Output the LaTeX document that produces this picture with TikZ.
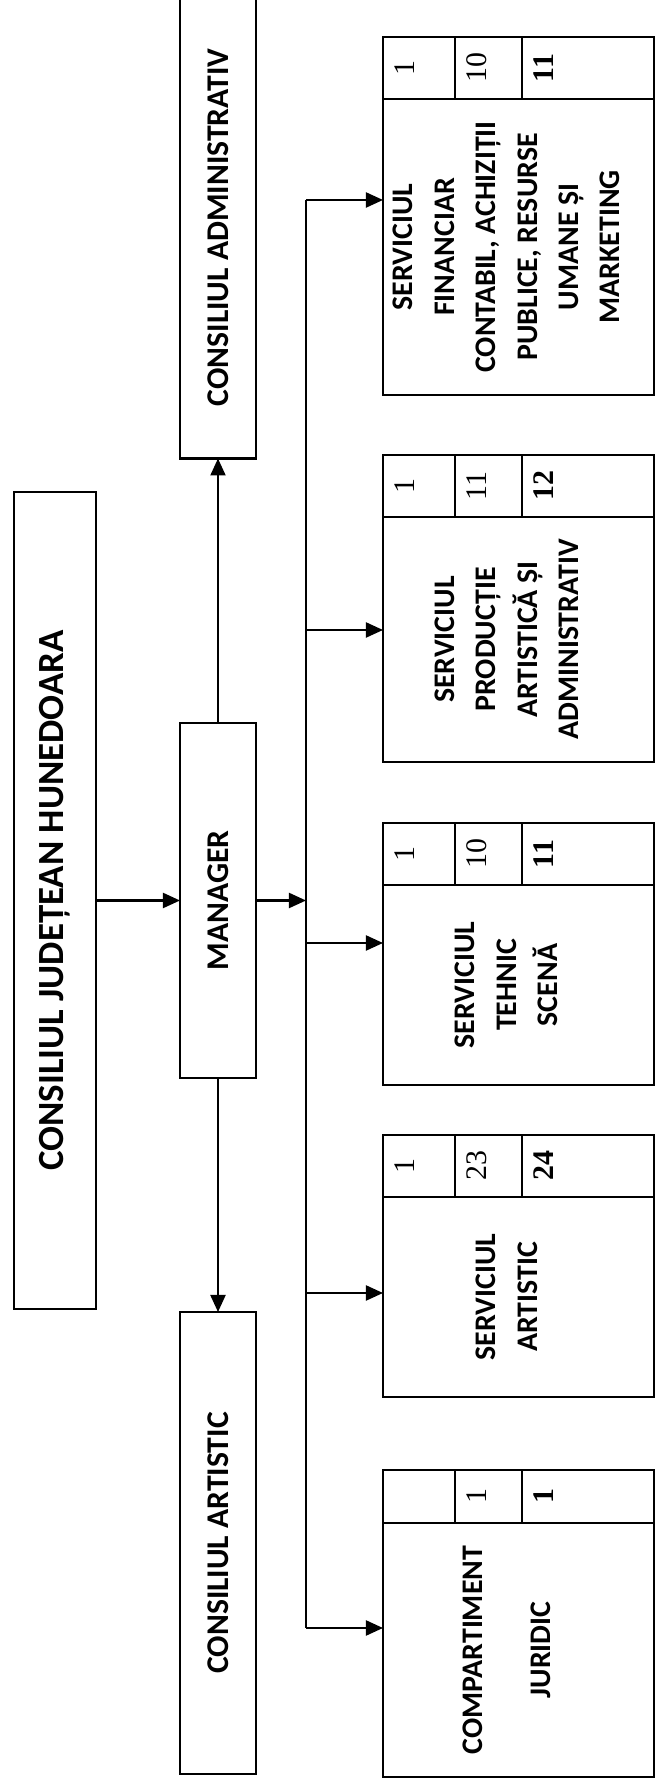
\documentclass[tikz,border=0pt]{standalone}
\usepackage{fontspec}
\setmainfont{Carlito}
\newfontfamily\numfont{Liberation Serif}
\usetikzlibrary{positioning,arrows.meta}
\newcommand\lowpad{\rule[-0.24cm]{0pt}{0.24cm}}

\begin{document}
\begin{tikzpicture}[
    rotate=90,
    transform shape,
    box/.style={rectangle, draw, line width=0.6pt, inner sep=2pt, outer sep=0pt, align=center, font=\bfseries\fontsize{9}{11}\selectfont},
    council/.style={box, minimum width=4.62cm, minimum height=0.76cm},
    dept/.style={box, minimum height=2.71cm, font=\bfseries\fontsize{8.5}{11.8}\selectfont},
    numcell/.style={rectangle, draw, line width=0.6pt, inner sep=0pt, outer sep=0pt, minimum width=0.62cm, text height=0.32cm, font=\numfont\fontsize{8.5}{10}\selectfont},
    cella/.style={numcell, text depth=0.40cm},
    cellb/.style={numcell, text depth=0.35cm},
    cellc/.style={numcell, text depth=1.00cm},
    arrow/.style={-{Triangle[length=1.7mm,width=1.5mm]}, line width=0.6pt}
]
\useasboundingbox (0,0) rectangle (17.86,6.58);

% Top level
\node[box, minimum width=8.17cm, minimum height=0.82cm, font=\bfseries\fontsize{10.5}{12}\selectfont] (judet) at (8.855,6.03) {CONSILIUL JUDEȚEAN HUNEDOARA};
\node[box, minimum width=3.55cm, minimum height=0.76cm] (manager) at (8.855,4.4) {MANAGER};
\node[council] (admin) at (15.585,4.4) {CONSILIUL ADMINISTRATIV};
\node[council] (cart) at (2.43,4.4) {CONSILIUL ARTISTIC};

% Departments
\node[dept, minimum width=2.96cm] (fin) at (15.39,1.395) {SERVICIUL\\FINANCIAR\\CONTABIL, ACHIZIȚII\\PUBLICE, RESURSE\\UMANE ȘI\\MARKETING\lowpad};
\node[dept, minimum width=2.45cm] (prod) at (11.465,1.395) {SERVICIUL\\PRODUCȚIE\\ARTISTICĂ ȘI\\ADMINISTRATIV\lowpad};
\node[dept, minimum width=2.00cm] (teh) at (8.01,1.395) {SERVICIUL\\TEHNIC\\SCENĂ\lowpad};
\node[dept, minimum width=2.00cm] (art) at (4.89,1.395) {SERVICIUL\\ARTISTIC\lowpad};
\node[dept, minimum width=2.54cm] (jur) at (1.36,1.395) {COMPARTIMENT\\[0.26cm]JURIDIC\lowpad};

% Staff numbers
\node[cella, anchor=north west] (fin1) at (fin.north east) {1};
\node[cellb, below=0pt of fin1] (fin2) {10};
\node[cellc, below=0pt of fin2] (fin3) {\bfseries 11};

\node[cella, anchor=north west] (prod1) at (prod.north east) {1};
\node[cellb, below=0pt of prod1] (prod2) {11};
\node[cellc, below=0pt of prod2] (prod3) {\bfseries 12};

\node[cella, anchor=north west] (teh1) at (teh.north east) {1};
\node[cellb, below=0pt of teh1] (teh2) {10};
\node[cellc, below=0pt of teh2] (teh3) {\bfseries 11};

\node[cella, anchor=north west] (art1) at (art.north east) {1};
\node[cellb, below=0pt of art1] (art2) {23};
\node[cellc, below=0pt of art2] (art3) {\bfseries 24};

\node[cella, minimum width=0.53cm, anchor=north west] (jur1) at (jur.north east) {};
\node[cellb, minimum width=0.53cm, below=0pt of jur1] (jur2) {1};
\node[cellc, minimum width=0.53cm, below=0pt of jur2] (jur3) {\bfseries 1};

% Bus line
\coordinate (bustop) at (15.86,3.52);
\coordinate (tapprod) at (11.56,3.52);
\coordinate (tapteh) at (8.43,3.52);
\coordinate (tapart) at (4.93,3.52);
\coordinate (busbot) at (1.58,3.52);
\draw[line width=0.6pt] (bustop) -- (busbot);

% Links
\draw[arrow] (judet) -- (manager);
\draw[arrow] (manager) -- (admin);
\draw[arrow] (manager) -- (cart);
\draw[arrow] (manager.south) -- (manager.south |- bustop);
\draw[arrow] (bustop) -- (bustop |- fin.north);
\draw[arrow] (tapprod) -- (tapprod |- prod.north);
\draw[arrow] (tapteh) -- (tapteh |- teh.north);
\draw[arrow] (tapart) -- (tapart |- art.north);
\draw[arrow] (busbot) -- (busbot |- jur.north);

\end{tikzpicture}
\end{document}
